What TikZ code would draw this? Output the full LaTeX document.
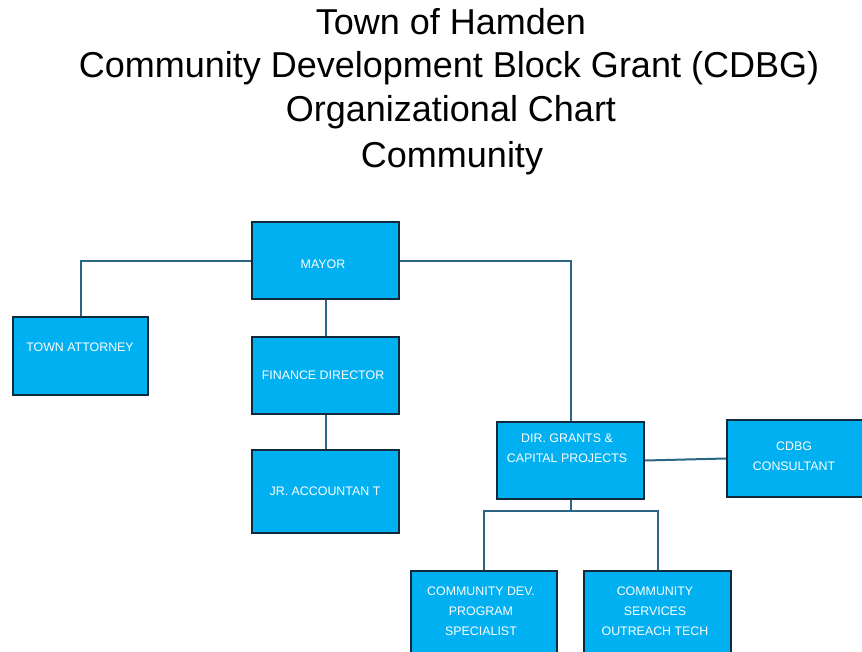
\documentclass[tikz,border=0pt]{standalone}
\usepackage{fontspec}
\setmainfont{Liberation Sans}
\usetikzlibrary{calc}
\definecolor{boxfill}{HTML}{00B0F0}
\definecolor{boxline}{HTML}{102A3C}
\definecolor{linkline}{HTML}{2D6684}
\tikzset{
  orgbox/.style={draw=boxline, line width=2pt, fill=boxfill, rectangle, inner sep=0pt},
  boxtext/.style={text=white, font=\fontsize{12.4}{20}\selectfont, align=center, inner sep=0pt},
  link/.style={draw=linkline, line width=2pt},
  titletext/.style={font=\fontsize{36}{45}\selectfont, align=center, inner sep=0pt}
}
\begin{document}
\begin{tikzpicture}[x=1pt,y=-1pt]
  \useasboundingbox (0,0) rectangle (862,651);
  \clip (0,0) rectangle (862,651);
  \fill[white] (0,0) rectangle (862,651);

  % heading
  \node[titletext] (t1) at (451,22) {Town of Hamden};
  \node[titletext] (t2) at (449,68) {Community Development Block Grant (CDBG)};
  \node[titletext] (t3) at (451,112) {Organizational Chart};
  \node[titletext] (t4) at (452,158) {Community};

  % positions
  \node[orgbox, minimum width=147pt, minimum height=77pt] (mayor) at (325.5,260.5) {};
  \node[orgbox, minimum width=135pt, minimum height=78pt] (atty) at (80.5,356) {};
  \node[orgbox, minimum width=147pt, minimum height=77pt] (fin) at (325.5,375.5) {};
  \node[orgbox, minimum width=147pt, minimum height=83pt] (jr) at (325.5,491.5) {};
  \node[orgbox, minimum width=147pt, minimum height=77pt] (dir) at (570.5,460.5) {};
  \node[orgbox, minimum width=141pt, minimum height=77pt] (cdbg) at (797.5,458.5) {};
  \node[orgbox, minimum width=146pt, minimum height=90pt] (cdev) at (484,616) {};
  \node[orgbox, minimum width=147pt, minimum height=90pt] (csvc) at (657.5,616) {};

  % labels
  \node[boxtext] (lmayor) at (323,264) {MAYOR};
  \node[boxtext] (latty) at (80,347) {TOWN ATTORNEY};
  \node[boxtext] (lfin) at (323,375) {FINANCE DIRECTOR};
  \node[boxtext] (ljr) at (325,491) {JR. ACCOUNTAN T};
  \node[boxtext] (ldir) at (567,448.5) {DIR. GRANTS \&\\CAPITAL PROJECTS};
  \node[boxtext] (lcdbg) at (794,456.5) {CDBG\\CONSULTANT};
  \node[boxtext] (lcdev) at (481,611) {COMMUNITY DEV.\\PROGRAM\\SPECIALIST};
  \node[boxtext] (lcsvc) at (655,611) {COMMUNITY\\SERVICES\\OUTREACH TECH};

  % reporting lines
  \draw[link] (mayor.west) -| (atty.north);
  \draw[link] (mayor.east) -| (dir.north);
  \draw[link] (mayor.south) -- (fin.north);
  \draw[link] (fin.south) -- (jr.north);
  \draw[link] (dir.east) -- (cdbg.west);
  \coordinate (bus) at ($(dir.south)+(0,11)$);
  \draw[link] (dir.south) -- (bus);
  \draw[link] (cdev.north) |- (bus) -| (csvc.north);
\end{tikzpicture}
\end{document}
